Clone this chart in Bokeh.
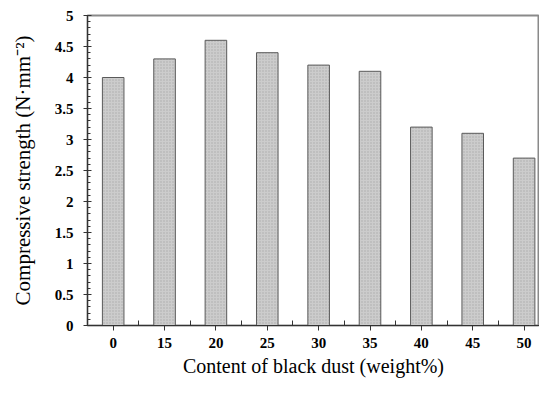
from bokeh.plotting import figure
from bokeh.models import FixedTicker, CustomJSTickFormatter, Range1d, ColumnDataSource
from bokeh.embed import file_html
from bokeh.resources import INLINE

categories = ["0", "15", "20", "25", "30", "35", "40", "45", "50"]
strength = [4.0, 4.3, 4.6, 4.4, 4.2, 4.1, 3.2, 3.1, 2.7]
y_ticks = [0, 0.5, 1, 1.5, 2, 2.5, 3, 3.5, 4, 4.5, 5]

xpos = list(range(len(categories)))
src = ColumnDataSource(dict(x=xpos, top=strength))

p = figure(width=539, height=379, output_backend="svg", toolbar_location=None,
           x_range=Range1d(-0.5, 8.3), y_range=Range1d(0, 5),
           min_border_left=87, min_border_right=0, min_border_top=15, min_border_bottom=52)
p.background_fill_color = "white"
p.border_fill_color = "white"
p.grid.visible = False
p.outline_line_color = "#8a8a8a"
p.outline_line_width = 2

p.vbar(x="x", top="top", width=0.42, source=src, fill_color="#cccccc",
       hatch_pattern=".", hatch_scale=3, hatch_color="#8c8c8c", hatch_alpha=0.5,
       line_color="#5a5a5a", line_width=1)

font = "Liberation Serif"
# x axis
xa = p.xaxis[0]
xa.ticker = FixedTicker(ticks=xpos, minor_ticks=[i + 0.5 for i in xpos[:-1]])
xa.major_label_overrides = {i: c for i, c in enumerate(categories)}
xa.major_tick_out = 5
xa.major_tick_in = 0
xa.minor_tick_in = 5
xa.minor_tick_out = 0
xa.axis_line_color = "#333333"
xa.major_tick_line_color = "#333333"
xa.minor_tick_line_color = "#333333"
xa.major_label_text_font = font
xa.major_label_text_font_style = "bold"
xa.major_label_text_font_size = "15px"
xa.major_label_text_color = "black"
xa.major_label_standoff = 7
xa.axis_label = "Content of black dust (weight%)"
xa.axis_label_text_font = font
xa.axis_label_text_font_style = "normal"
xa.axis_label_text_font_size = "20px"
xa.axis_label_text_color = "black"
xa.axis_label_standoff = 4

# y axis
ya = p.yaxis[0]
ya.ticker = FixedTicker(ticks=y_ticks, minor_ticks=[round(i * 0.1, 1) for i in range(51)])
ya.formatter = CustomJSTickFormatter(code="return String(tick);")
ya.major_tick_out = 4
ya.major_tick_in = 4
ya.minor_tick_in = 3
ya.minor_tick_out = 0
ya.axis_line_color = "#333333"
ya.major_tick_line_color = "#333333"
ya.minor_tick_line_color = "#333333"
ya.major_label_text_font = font
ya.major_label_text_font_style = "bold"
ya.major_label_text_font_size = "15px"
ya.major_label_text_color = "black"
ya.major_label_standoff = 10
ya.axis_label = "Compressive strength (N\u00b7mm\u207b\u00b2)"
ya.axis_label_text_font = font
ya.axis_label_text_font_style = "normal"
ya.axis_label_text_font_size = "21px"
ya.axis_label_text_color = "black"
ya.axis_label_standoff = 17

open("out.html", "w").write(file_html(p, INLINE))
